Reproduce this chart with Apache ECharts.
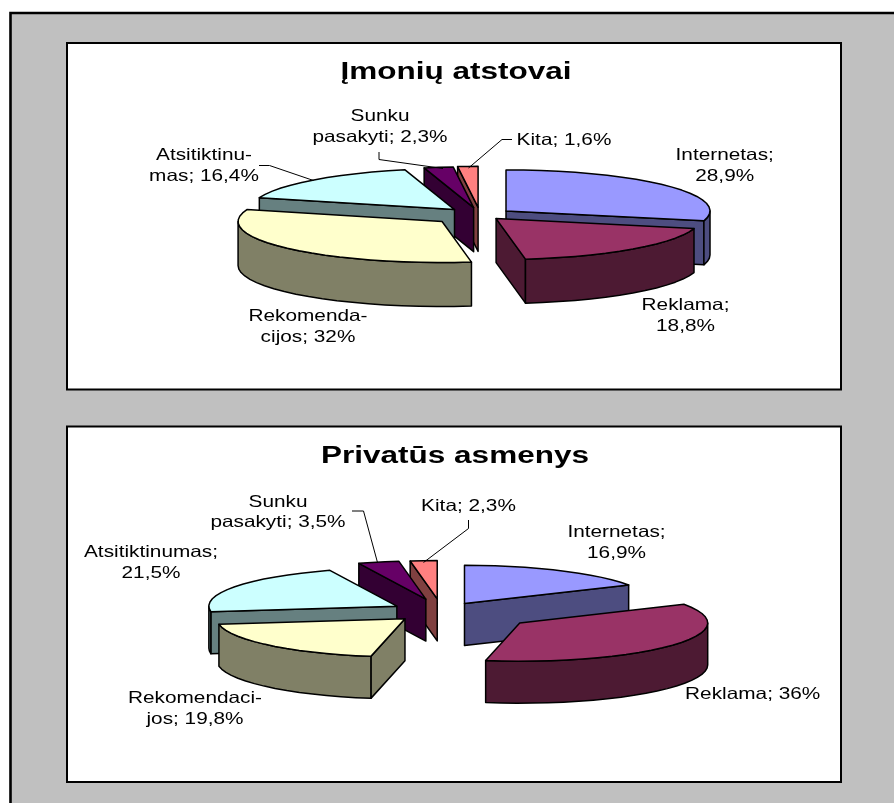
<!DOCTYPE html>
<html>
<head>
<meta charset="utf-8">
<style>html,body{margin:0;padding:0;background:#fff}#chart{width:894px;height:803px}</style>
<script src="https://cdn.jsdelivr.net/npm/echarts@6/dist/echarts.min.js"></script>
</head>
<body>
<div id="chart"></div>
<script>
// Survey answers, in percent, clockwise from twelve o'clock.
const titleCompanies = 'Įmonių atstovai';
const titlePrivate = 'Privatūs asmenys';
const namesCompanies = ['Internetas;\n', 'Reklama;\n', 'Rekomenda-\ncijos; ', 'Atsitiktinu-\nmas; ', 'Sunku\npasakyti; ', 'Kita; '];
const namesPrivate = ['Internetas;\n', 'Reklama; ', 'Rekomendaci-\njos; ', 'Atsitiktinumas;\n', 'Sunku\npasakyti; ', 'Kita; '];
const valuesCompanies = [28.9, 18.8, 32, 16.4, 2.3, 1.6];
const valuesPrivate = [16.9, 36, 19.8, 21.5, 3.5, 2.3];

// Face colours per slice: lit top and shaded wall.
const topColors = ['#9999FF', '#993366', '#FFFFCC', '#CCFFFF', '#660066', '#FF8080'];
const wallColors = ['#4D4D80', '#4D1A33', '#808066', '#668080', '#330033', '#804040'];
// Slices are painted back to front.
const paintOrder = [0, 1, 5, 4, 3, 2];

const pieCompanies = { cx: 480, cy: 215, rx: 204, ry: 41, depth: 44, explode: [33, 24, 50, 37, 37, 38] };
const piePrivate = { cx: 441.7, cy: 611.5, rx: 188, ry: 38.3, depth: 42, explode: [45, 96, 51, 52, 63, 62] };

// Label anchors: centre x and the middle of the text block.
const labelsCompanies = [[724.7, 166], [685.5, 316], [308, 327], [204, 166], [380, 127], [564, 140]];
const labelsPrivate = [[616.5, 543.2], [752.7, 694.5], [195, 709], [151, 562.7], [278, 512.5], [468.5, 506.5]];
const leadersCompanies = [
  [[379, 152], [379, 159.5], [443, 168.5]],
  [[512, 139.5], [502, 139.5], [468.5, 168]],
  [[259, 165.5], [269.5, 165.5], [313.5, 180.5]]
];
const leadersPrivate = [
  [[352, 511], [363.5, 511], [377.5, 562.5]],
  [[468.5, 520], [468.5, 528.5], [423.5, 562.5]]
];

const RAD = Math.PI / 180;
const ARC_STEP = 5;
const fmt = v => String(v).replace('.', ',') + '%';

function buildSlices(values) {
  let acc = 0;
  const out = values.map((v, i) => {
    const start = acc * 3.6;
    acc += v;
    return { value: [v, start, acc * 3.6, i] };
  });
  return paintOrder.map(i => out[i]);
}

function arcPoints(a0, a1, ox, oy, pie) {
  const pts = [];
  const n = Math.max(1, Math.ceil((a1 - a0) / ARC_STEP));
  for (let k = 0; k <= n; k++) {
    const a = (a0 + (a1 - a0) * k / n) * RAD;
    pts.push([ox + pie.rx * Math.sin(a), oy - pie.ry * Math.cos(a)]);
  }
  return pts;
}

function pieSeries(values, pie) {
  return {
    type: 'custom',
    coordinateSystem: 'none',
    silent: true,
    data: buildSlices(values),
    renderItem(params, api) {
      const start = api.value(1), end = api.value(2), idx = api.value(3);
      const mid = (start + end) / 2 * RAD;
      const e = pie.explode[idx];
      const ox = pie.cx + e * Math.sin(mid);
      const oy = pie.cy - e * pie.ry / pie.rx * Math.cos(mid);
      const d = pie.depth;
      const drop = pts => pts.slice().reverse().map(p => [p[0], p[1] + d]);
      const poly = (points, fill) => ({
        type: 'polygon',
        shape: { points },
        style: { fill, stroke: '#000', lineWidth: 1.5, lineJoin: 'round' }
      });
      const children = [];
      const arc = arcPoints(start, end, ox, oy, pie);
      const wall = wallColors[idx];
      // Radial walls, shown only where they face the viewer.
      if (Math.sin(start * RAD) < -1e-6) {
        const edge = [[ox, oy], arc[0]];
        children.push(poly(edge.concat(drop(edge)), wall));
      }
      if (Math.sin(end * RAD) > 1e-6 && end < 360) {
        const edge = [[ox, oy], arc[arc.length - 1]];
        children.push(poly(edge.concat(drop(edge)), wall));
      }
      // Rim: the part of the arc on the near half of the ellipse.
      const f0 = Math.max(start, 90), f1 = Math.min(end, 270);
      if (f1 > f0) {
        const rim = arcPoints(f0, f1, ox, oy, pie);
        children.push(poly(rim.concat(drop(rim)), wall));
      }
      children.push(poly([[ox, oy]].concat(arc), topColors[idx]));
      return { type: 'group', children };
    }
  };
}

function text(str, x, y, size, weight, sx) {
  return {
    type: 'text', x, y, scaleX: sx, z: 20,
    style: {
      text: str, fill: '#000', align: 'center', verticalAlign: 'middle',
      font: `${weight} ${size}px "Liberation Sans", Arial, sans-serif`, lineHeight: 20.8
    }
  };
}
const labelText = (names, values, anchors) =>
  names.map((n, i) => text(n + fmt(values[i]), anchors[i][0], anchors[i][1], 16.5, 'normal', 1.26));
const leaderLines = list => list.map(points => ({
  type: 'polyline', z: 15, shape: { points },
  style: { stroke: '#000', lineWidth: 1, fill: null }
}));
const panel = (y, height) => ({
  type: 'rect', z: -5, shape: { x: 67, y, width: 774, height },
  style: { fill: '#fff', stroke: '#000', lineWidth: 2 }
});

const chart = echarts.init(document.getElementById('chart'), null, { renderer: 'canvas' });
chart.setOption({
  animation: false,
  backgroundColor: '#fff',
  graphic: [
    { type: 'rect', z: -10, shape: { x: 10.5, y: 13, width: 900, height: 820 },
      style: { fill: '#C0C0C0', stroke: '#000', lineWidth: 2.6 } },
    panel(43, 346.5),
    panel(426.5, 355.5),
    text(titleCompanies, 456, 73, 23.5, 'bold', 1.34),
    text(titlePrivate, 455, 456.5, 23.5, 'bold', 1.34),
    ...leaderLines(leadersCompanies),
    ...leaderLines(leadersPrivate),
    ...labelText(namesCompanies, valuesCompanies, labelsCompanies),
    ...labelText(namesPrivate, valuesPrivate, labelsPrivate)
  ],
  series: [pieSeries(valuesCompanies, pieCompanies), pieSeries(valuesPrivate, piePrivate)]
});
</script>
</body>
</html>
